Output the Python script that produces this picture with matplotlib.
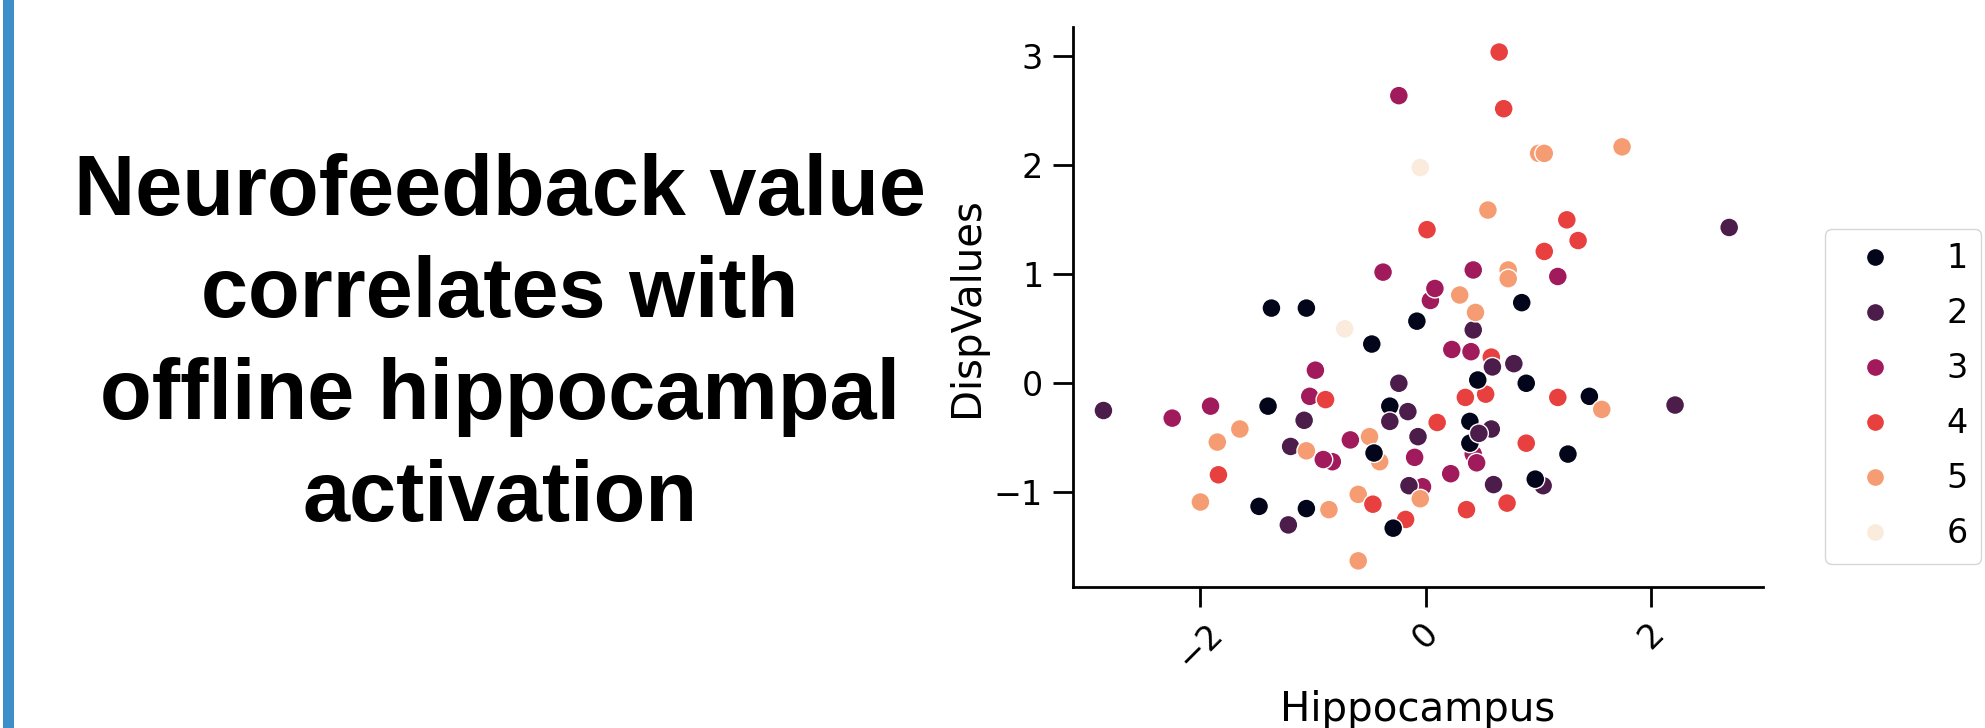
import matplotlib
matplotlib.use("Agg")
import matplotlib.pyplot as plt
from matplotlib.lines import Line2D
from matplotlib.patches import Rectangle
import seaborn as sns

# ---------------- data ----------------
hippocampus = [
    -0.41, -0.03, 0.42, 0.58, -0.18, 1.00, 0.73, -0.83, 1.04, 0.53, 0.58, 0.39, 0.39,
    -2.86, -2.25, -1.91, -1.85, -1.65, -1.84, -2.00, -1.48, -1.40, -1.37, -1.06, -1.20,
    -1.22, -1.06, -1.08, -1.06, -0.98, -1.03, -0.89, -0.91,
    -0.86, -0.72, -0.67, -0.60, -0.60, -0.47, -0.48, -0.50, -0.46,
    -0.38, -0.24, -0.32, -0.32, -0.24, -0.16,
    -0.29, -0.15,
    -0.05, -0.10, -0.07, -0.08, -0.05, 0.01, 0.04, 0.08, 0.10, 0.22, 0.23, 0.30, 0.35,
    0.36, 0.40, 0.42, 0.44, 0.42,
    0.46, 0.47, 0.45, 0.60, 0.72, 0.59,
    0.55, 0.65, 0.69, 0.73, 0.78, 0.85, 0.89, 0.89, 0.97,
    1.05, 1.05, 1.17, 1.17, 1.25, 1.35, 1.26, 1.45, 1.56, 1.74, 2.21, 2.69,
]
disp_values = [
    -0.72, -0.95, -0.65, 0.24, -1.25, 2.11, 1.04, -0.72, -0.94, -0.10, -0.42, -0.35, -0.55,
    -0.25, -0.32, -0.21, -0.54, -0.42, -0.84, -1.09, -1.13, -0.21, 0.69, 0.69, -0.58,
    -1.30, -1.15, -0.34, -0.62, 0.12, -0.12, -0.15, -0.70,
    -1.16, 0.50, -0.52, -1.02, -1.63, -1.11, 0.36, -0.49, -0.64,
    1.02, 2.64, -0.21, -0.35, 0.00, -0.26,
    -1.33, -0.94,
    -1.06, -0.68, -0.49, 0.57, 1.98, 1.41, 0.76, 0.87, -0.36, -0.83, 0.31, 0.81, -0.13,
    -1.16, 0.29, 0.49, 0.65, 1.04,
    0.03, -0.46, -0.73, -0.93, -1.10, 0.15,
    1.59, 3.04, 2.52, 0.96, 0.18, 0.74, 0.00, -0.55, -0.88,
    2.11, 1.21, -0.13, 0.98, 1.50, 1.31, -0.65, -0.12, -0.24, 2.17, -0.20, 1.43,
]
run = [
    5, 3, 3, 4, 4, 5, 5, 3, 2, 4, 2, 1, 1,
    2, 3, 3, 5, 5, 4, 5, 1, 1, 1, 1, 2,
    2, 1, 2, 5, 3, 3, 4, 3,
    5, 6, 3, 5, 5, 4, 1, 5, 1,
    3, 3, 1, 2, 2, 2,
    1, 2,
    5, 3, 2, 1, 6, 4, 3, 3, 4, 3, 3, 5, 4,
    4, 3, 2, 5, 3,
    1, 2, 3, 2, 4, 2,
    5, 4, 4, 5, 2, 1, 1, 4, 1,
    5, 4, 4, 3, 4, 4, 1, 1, 5, 5, 2, 2,
]
legend_labels = [1, 2, 3, 4, 5, 6]
title_lines = ["Neurofeedback value", "correlates with",
               "offline hippocampal", "activation"]
x_ticks = [-2, 0, 2]
y_ticks = [-1, 0, 1, 2, 3]

# ---------------- figure ----------------
W, H = 1985, 728
fig = plt.figure(figsize=(W / 100, H / 100), dpi=100)
fig.patch.set_facecolor("white")

# blue side bar
fig.patches.append(Rectangle((3 / W, 0), 11 / W, 1, transform=fig.transFigure,
                             facecolor="#3d8fca", edgecolor="none", zorder=0))

# title block
title_baselines = [215, 317, 419, 521.5]
for line, yb in zip(title_lines, title_baselines):
    fig.text(500 / W, 1 - yb / H, line, ha="center", va="baseline",
             fontsize=61, fontweight="bold", family="Liberation Sans", color="black")

# scatter axes
ax = fig.add_axes([1073 / W, 1 - 587 / H, 690 / W, 560 / H])
cmap = sns.color_palette("rocket", as_cmap=True)
vmin, vmax = min(legend_labels), max(legend_labels)
colors = [cmap((r - vmin) / (vmax - vmin)) for r in run]
ax.scatter(hippocampus, disp_values, c=colors, s=185, edgecolors="white",
           linewidths=1.0, zorder=3)

ax.set_xlim(-3.13, 2.99)
ax.set_ylim(-1.87, 3.27)
ax.set_xticks(x_ticks)
ax.set_yticks(y_ticks)
for s in ["top", "right"]:
    ax.spines[s].set_visible(False)
for s in ["left", "bottom"]:
    ax.spines[s].set_linewidth(2.0)
ax.tick_params(axis="both", length=14.5, width=2.0, labelsize=24, pad=7, color="black")
plt.setp(ax.get_xticklabels(), rotation=45)
ax.set_xlabel("Hippocampus", fontsize=29, labelpad=11)
ax.set_ylabel("DispValues", fontsize=29, labelpad=5)

handles = [Line2D([0], [0], marker="o", linestyle="none", markersize=13,
                  markerfacecolor=cmap((v - vmin) / (vmax - vmin)),
                  markeredgecolor="white", markeredgewidth=1.0)
           for v in legend_labels]
fig.legend(handles, [str(v) for v in legend_labels], loc="upper left",
           bbox_to_anchor=(1825 / W, 1 - 229 / H), bbox_transform=fig.transFigure,
           borderaxespad=0, fontsize=24, labelspacing=0.66, handlelength=2.2,
           handletextpad=1.05, frameon=True, fancybox=True)

fig.savefig("out.png", dpi=100, facecolor="white")
